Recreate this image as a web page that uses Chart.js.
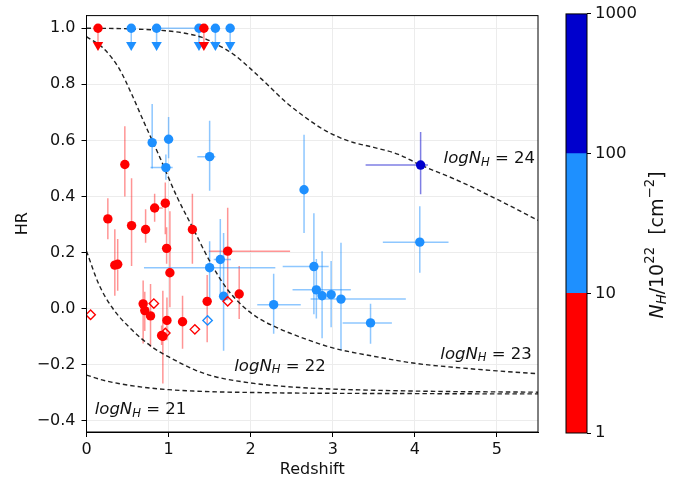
<!DOCTYPE html>
<html><head><meta charset="utf-8">
<script src="https://cdn.jsdelivr.net/npm/chart.js@4.4.1/dist/chart.umd.min.js"></script>
<style>
html,body{margin:0;padding:0;background:#fff;}
#wrap{position:relative;width:678px;height:485px;overflow:hidden;}
#main{position:absolute;left:0;top:0;}
#cbar{position:absolute;left:540px;top:0;}
</style></head><body>
<div id="wrap"><canvas id="main" width="560" height="485"></canvas><canvas id="cbar" width="138" height="485"></canvas></div>
<script>
// ---------- tick labels ----------
const xTicks = [0, 1, 2, 3, 4, 5];
const yTicks = [-0.4, -0.2, 0.0, 0.2, 0.4, 0.6, 0.8, 1.0];
const cbarTicks = [1, 10, 100, 1000];
const nhBins = [[1, 10], [10, 100], [100, 1000]];

// ---------- model curves (logNH = 21..24) ----------
const curve21X = [0, 0.2, 0.39, 0.6, 0.8, 1.0, 1.3, 1.6, 2.0, 2.5, 3.0, 4.0, 5.0, 5.5];
const curve21Y = [-0.237, -0.255, -0.267, -0.277, -0.284, -0.289, -0.294, -0.297, -0.299, -0.301, -0.302, -0.303, -0.304, -0.304];
const curve22X = [0, 0.15, 0.31, 0.52, 0.8, 1.04, 1.33, 1.57, 2.0, 2.43, 3.0, 3.5, 4.0, 4.5, 5.0, 5.5];
const curve22Y = [0.205, 0.087, 0.005, -0.066, -0.137, -0.178, -0.22, -0.243, -0.265, -0.278, -0.287, -0.291, -0.294, -0.296, -0.297, -0.298];
const curve23X = [0, 0.2, 0.4, 0.55, 0.7, 0.9, 1.1, 1.3, 1.5, 1.7, 1.9, 2.1, 2.3, 2.5, 3.0, 3.5, 4.0, 4.5, 5.0, 5.5];
const curve23Y = [0.97, 0.93, 0.855, 0.765, 0.665, 0.535, 0.40, 0.285, 0.17, 0.075, 0.01, -0.035, -0.065, -0.09, -0.14, -0.17, -0.195, -0.21, -0.222, -0.232];
const curve24X = [0, 0.5, 1.0, 1.2, 1.4, 1.6, 1.8, 2.0, 2.2, 2.43, 2.7, 2.91, 3.2, 3.5, 3.8, 4.07, 4.5, 5.0, 5.5];
const curve24Y = [1.0, 0.998, 0.99, 0.982, 0.968, 0.94, 0.905, 0.855, 0.80, 0.736, 0.675, 0.635, 0.597, 0.575, 0.55, 0.512, 0.46, 0.39, 0.315];

// ---------- NH 1-10 (red) ----------
const redX   = [0.467, 0.26, 0.549, 0.72, 0.83, 0.96, 0.976, 0.345, 0.38, 1.016, 1.29, 1.72, 1.47, 1.86, 0.69, 0.71, 0.78, 0.98, 1.17, 0.93, 0.915];
const redY   = [0.514, 0.32, 0.296, 0.282, 0.359, 0.376, 0.215, 0.155, 0.158, 0.128, 0.282, 0.205, 0.026, 0.052, 0.017, -0.007, -0.026, -0.042, -0.047, -0.099, -0.096];
const redYLo = [0.40, 0.247, 0.152, 0.235, 0.31, 0.265, 0.16, 0.046, 0.064, 0.005, 0.16, 0.03, -0.12, -0.037, -0.124, -0.08, -0.137, -0.113, -0.143, -0.267, -0.13];
const redYHi = [0.65, 0.394, 0.465, 0.354, 0.41, 0.45, 0.29, 0.283, 0.248, 0.347, 0.41, 0.36, 0.12, 0.152, 0.10, 0.06, 0.088, 0.04, 0.046, 0.064, -0.06];
const redXLo = [null, null, null, null, 0.80, null, 0.925, null, null, null, null, 1.49, null, null, null, null, null, null, null, null, null];
const redXHi = [null, null, null, null, 0.93, null, 0.99, null, null, null, null, 2.48, null, null, null, null, null, null, null, null, null];
const redOpenX = [0.05, 0.82, 0.96, 1.32, 1.72];
const redOpenY = [-0.022, 0.018, -0.087, -0.074, 0.026];
const redLimX = [0.14, 1.43];

// ---------- NH 10-100 (blue) ----------
const blueX   = [0.80, 1.0, 0.967, 1.50, 1.50, 1.63, 1.67, 2.28, 2.65, 2.77, 2.80, 2.87, 2.98, 3.10, 3.46, 4.06];
const blueY   = [0.592, 0.604, 0.503, 0.542, 0.146, 0.175, 0.044, 0.014, 0.424, 0.15, 0.067, 0.046, 0.05, 0.034, -0.051, 0.237];
const blueYLo = [0.50, 0.536, 0.46, 0.42, 0.03, 0.04, -0.15, -0.09, 0.27, -0.02, -0.035, -0.106, -0.066, -0.149, -0.125, 0.128];
const blueYHi = [0.73, 0.683, 0.55, 0.67, 0.24, 0.32, 0.27, 0.124, 0.62, 0.34, 0.177, 0.205, 0.17, 0.235, 0.017, 0.365];
const blueXLo = [null, null, 0.78, 1.35, 0.70, 1.55, 1.62, 2.08, 2.61, 2.39, 2.51, null, null, 2.73, 3.12, 3.61];
const blueXHi = [null, null, 1.05, 1.57, 2.30, 1.76, 1.73, 2.61, 2.70, 2.95, 3.22, null, null, 3.89, 3.72, 4.41];
const blueOpenX = [1.475];
const blueOpenY = [-0.042];
const blueLimX   = [0.545, 0.854, 1.37, 1.57, 1.75];
const blueLimXLo = [null, null, 0.854, null, null];
const blueLimXHi = [null, null, 1.37, null, null];

// ---------- NH 100-1000 (dark blue) ----------
const darkX = [4.07], darkY = [0.512], darkYLo = [0.408], darkYHi = [0.63], darkXLo = [3.40], darkXHi = [4.16];

// upper limits at HR = 1 with arrows
const limitHR = 1.0;
const arrowHR = 0.94;

// ---------- styles ----------
const RED = '#ff0000', BLUE = '#1e90ff', DARK = '#0000cd';
const RED_E = 'rgba(255,0,0,0.42)', BLUE_E = 'rgba(30,144,255,0.5)', DARK_E = 'rgba(40,40,210,0.6)';
const FONT = 'DejaVu Sans';
const FS = 16;

const pts = (xs, ys) => xs.map((x, i) => ({x: x, y: ys[i]}));
const constPts = (xs, v) => xs.map(x => ({x: x, y: v}));

function curveDS(xs, ys) {
  return {type: 'line', data: pts(xs, ys), borderColor: '#222', borderWidth: 1.4, borderDash: [4.5, 3],
    pointRadius: 0, fill: false, cubicInterpolationMode: 'monotone', order: 20};
}
function markerDS(data, color, opts) {
  return Object.assign({data: data, pointStyle: 'circle', pointRadius: 4.7, backgroundColor: color,
    borderColor: color, borderWidth: 0, showLine: false, order: 1}, opts || {});
}

const datasets = [
  curveDS(curve21X, curve21Y), curveDS(curve22X, curve22Y), curveDS(curve23X, curve23Y), curveDS(curve24X, curve24Y),
  markerDS(pts(redX, redY), RED),
  markerDS(pts(redOpenX, redOpenY), RED, {pointStyle: 'rectRot', pointRadius: 4.7, backgroundColor: 'rgba(255,255,255,0)', borderWidth: 1.4}),
  markerDS(constPts(redLimX, limitHR), RED),
  markerDS(constPts(redLimX, arrowHR), RED, {pointStyle: 'triangle', rotation: 180, pointRadius: 6}),
  markerDS(pts(blueX, blueY), BLUE),
  markerDS(pts(blueOpenX, blueOpenY), BLUE, {pointStyle: 'rectRot', pointRadius: 4.7, backgroundColor: 'rgba(255,255,255,0)', borderWidth: 1.4}),
  markerDS(constPts(blueLimX, limitHR), BLUE),
  markerDS(constPts(blueLimX, arrowHR), BLUE, {pointStyle: 'triangle', rotation: 180, pointRadius: 6}),
  markerDS(pts(darkX, darkY), DARK)
];

const errorGroups = [
  {x: redX, y: redY, lo: redYLo, hi: redYHi, xlo: redXLo, xhi: redXHi, c: RED_E},
  {x: blueX, y: blueY, lo: blueYLo, hi: blueYHi, xlo: blueXLo, xhi: blueXHi, c: BLUE_E},
  {x: darkX, y: darkY, lo: darkYLo, hi: darkYHi, xlo: darkXLo, xhi: darkXHi, c: DARK_E},
  {x: redLimX, y: redLimX.map(() => limitHR), lo: redLimX.map(() => arrowHR), hi: redLimX.map(() => limitHR), xlo: [], xhi: [], c: RED_E},
  {x: blueLimX, y: blueLimX.map(() => limitHR), lo: blueLimX.map(() => arrowHR), hi: blueLimX.map(() => limitHR), xlo: blueLimXLo, xhi: blueLimXHi, c: BLUE_E}
];

const errorBarPlugin = {
  id: 'errbars',
  beforeDatasetsDraw(chart) {
    const {ctx, chartArea: a, scales: {x: sx, y: sy}} = chart;
    ctx.save();
    ctx.beginPath(); ctx.rect(a.left, a.top, a.right - a.left, a.bottom - a.top); ctx.clip();
    ctx.lineWidth = 1.5;
    errorGroups.forEach(g => {
      ctx.strokeStyle = g.c;
      g.x.forEach((xv, i) => {
        const px = sx.getPixelForValue(xv), py = sy.getPixelForValue(g.y[i]);
        if (g.lo[i] != null && g.hi[i] != null) {
          ctx.beginPath(); ctx.moveTo(px, sy.getPixelForValue(g.lo[i])); ctx.lineTo(px, sy.getPixelForValue(g.hi[i])); ctx.stroke();
        }
        if (g.xlo[i] != null && g.xhi[i] != null) {
          ctx.beginPath(); ctx.moveTo(sx.getPixelForValue(g.xlo[i]), py); ctx.lineTo(sx.getPixelForValue(g.xhi[i]), py); ctx.stroke();
        }
      });
    });
    ctx.restore();
  }
};

function drawRich(ctx, segs, x, y, center) {
  let w = 0;
  segs.forEach(s => { ctx.font = s.f; s.w = ctx.measureText(s.t).width; w += s.w; });
  let cx = center ? x - w / 2 : x;
  ctx.textBaseline = 'middle'; ctx.textAlign = 'left';
  segs.forEach(s => { ctx.font = s.f; ctx.fillText(s.t, cx, y + (s.dy || 0)); cx += s.w; });
}

const nhLabelText = ['21', '22', '23', '24'];
const nhLabelPos = [[0.10, -0.362], [1.80, -0.206], [4.31, -0.163], [4.35, 0.533]];
const LFS = 16.5;

const framePlugin = {
  id: 'frame',
  afterDatasetsDraw(chart) {
    const {ctx, chartArea: a, scales: {x: sx, y: sy}} = chart;
    ctx.save();
    ctx.fillStyle = '#111';
    nhLabelText.forEach((t, i) => {
      const px = sx.getPixelForValue(nhLabelPos[i][0]), py = sy.getPixelForValue(nhLabelPos[i][1]);
      drawRich(ctx, [
        {t: 'logN', f: `italic ${LFS}px "${FONT}"`},
        {t: 'H', f: `italic ${LFS * 0.7}px "${FONT}"`, dy: 4},
        {t: ' = ' + t, f: `${LFS}px "${FONT}"`}
      ], px, py, false);
    });
    ctx.strokeStyle = '#000'; ctx.lineWidth = 1;
    ctx.strokeRect(a.left, a.top, a.right - a.left, a.bottom - a.top);
    ctx.restore();
  }
};

const fmtY = v => (v < -1e-9 ? '\u2212' : '') + Math.abs(v).toFixed(1);

new Chart(document.getElementById('main'), {
  type: 'scatter',
  data: {datasets: datasets},
  options: {
    responsive: false, animation: false, devicePixelRatio: 1,
    layout: {padding: {left: 0, right: 22, top: 12.5, bottom: 0}},
    plugins: {legend: {display: false}, tooltip: {enabled: false}},
    scales: {
      x: {
        type: 'linear', min: 0, max: 5.5,
        afterBuildTicks: s => { s.ticks = xTicks.map(v => ({value: v})); },
        afterFit: s => { s.height = 53; },
        grid: {color: '#ececec', lineWidth: 1, tickColor: '#000', tickLength: 5},
        border: {color: '#000', width: 1},
        ticks: {font: {family: FONT, size: FS}, color: '#111', padding: 3, maxRotation: 0, callback: v => String(v)},
        title: {display: true, text: 'Redshift', font: {family: FONT, size: FS}, color: '#111', padding: {top: 0, bottom: 6}}
      },
      y: {
        type: 'linear', min: -0.44, max: 1.045,
        afterBuildTicks: s => { s.ticks = yTicks.map(v => ({value: v})); },
        afterFit: s => { s.width = 86.5; },
        grid: {color: '#ececec', lineWidth: 1, tickColor: '#000', tickLength: 5},
        border: {color: '#000', width: 1},
        ticks: {font: {family: FONT, size: FS}, color: '#111', padding: 6, callback: v => fmtY(v)},
        title: {display: true, text: 'HR', font: {family: FONT, size: FS}, color: '#111', padding: {top: 13, bottom: 0}}
      }
    }
  },
  plugins: [errorBarPlugin, framePlugin]
});

// ---------- colour bar ----------
const cbarColors = [RED, BLUE, DARK];
const CFS = 19;
const cbarTitlePlugin = {
  id: 'cbtitle',
  afterDraw(chart) {
    const {ctx, chartArea: a} = chart;
    ctx.save();
    ctx.strokeStyle = '#000'; ctx.lineWidth = 1;
    ctx.strokeRect(a.left, a.top, a.right - a.left, a.bottom - a.top);
    ctx.translate(118, 245);
    ctx.rotate(-Math.PI / 2);
    ctx.fillStyle = '#111';
    drawRich(ctx, [
      {t: 'N', f: `italic ${CFS}px "${FONT}"`},
      {t: 'H', f: `italic ${CFS * 0.7}px "${FONT}"`, dy: 5},
      {t: '/10', f: `${CFS}px "${FONT}"`},
      {t: '22', f: `${CFS * 0.7}px "${FONT}"`, dy: -7},
      {t: '  [cm', f: `${CFS}px "${FONT}"`},
      {t: '\u22122', f: `${CFS * 0.7}px "${FONT}"`, dy: -7},
      {t: ']', f: `${CFS}px "${FONT}"`}
    ], 0, 0, true);
    ctx.restore();
  }
};

new Chart(document.getElementById('cbar'), {
  type: 'bar',
  data: {
    labels: ['NH'],
    datasets: nhBins.map((b, i) => ({data: [b], backgroundColor: cbarColors[i], borderWidth: 0,
      grouped: false, barPercentage: 1, categoryPercentage: 1}))
  },
  options: {
    responsive: false, animation: false, devicePixelRatio: 1,
    layout: {padding: {left: 26, top: 13, bottom: 52, right: 0}},
    plugins: {legend: {display: false}, tooltip: {enabled: false}},
    scales: {
      x: {display: false},
      y: {
        type: 'logarithmic', position: 'right', min: 1, max: 1000,
        afterBuildTicks: s => { s.ticks = cbarTicks.map(v => ({value: v})); },
        afterFit: s => { s.width = 91; },
        grid: {drawOnChartArea: false, tickLength: 4, tickColor: '#000'},
        border: {display: false},
        ticks: {font: {family: FONT, size: 16.5}, color: '#111', padding: 4, callback: v => String(v)}
      }
    }
  },
  plugins: [cbarTitlePlugin]
});
</script>
</body></html>
